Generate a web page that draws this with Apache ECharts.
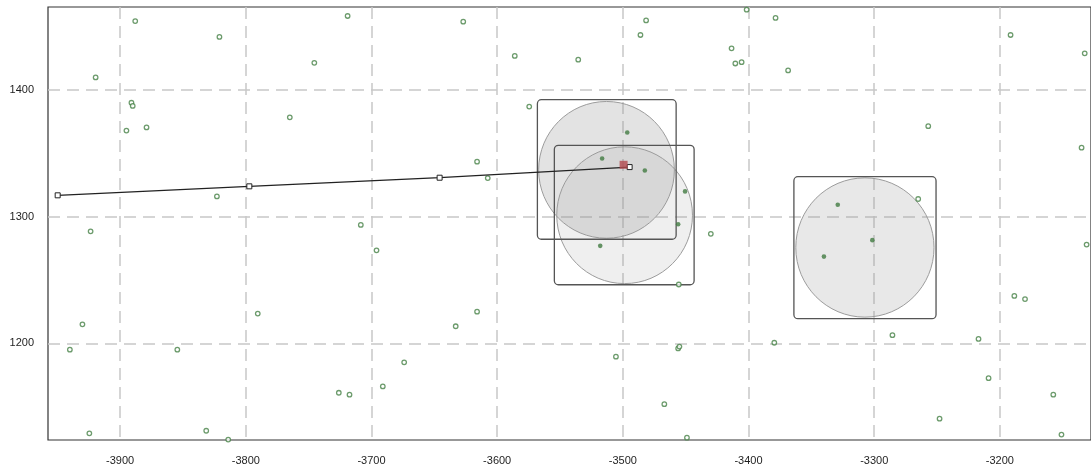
<!DOCTYPE html>
<html><head><meta charset="utf-8">
<script src="https://cdn.jsdelivr.net/npm/echarts@6/dist/echarts.min.js"></script>
<style>html,body{margin:0;padding:0;background:#fff}#c{width:1091px;height:470px}</style>
</head><body><div id="c"></div>
<script>
// ---- tick labels ----
const xTickLabels = [-3900, -3800, -3700, -3600, -3500, -3400, -3300, -3200];
const yTickLabels = [1200, 1300, 1400];

// ---- hollow points ----
const hollowX = [-3888, -3821, -3919.5, -3891, -3890, -3895, -3879, -3765, -3823, -3923.5,
  -3930, -3940, -3854.5, -3790.5, -3924.5, -3831.5, -3814, -3726, -3717.5, -3691,
  -3719, -3745.5, -3627, -3586, -3535.5, -3574.5, -3616, -3607.5, -3708.5, -3696,
  -3616, -3633, -3674, -3455.5, -3505.5, -3456, -3455, -3379.5, -3467, -3449,
  -3481.5, -3486, -3401.5, -3378.5, -3413.5, -3410.5, -3405.5, -3368.5, -3191.5, -3132.5,
  -3257, -3135, -3265, -3131, -3188.5, -3180, -3285.5, -3217, -3209, -3157.5,
  -3248, -3151, -3430];
const hollowY = [1454.5, 1442, 1410, 1390, 1387.5, 1368, 1370.5, 1378.5, 1316, 1288.5,
  1215, 1195, 1195, 1223.5, 1129, 1131, 1124, 1161, 1159.5, 1166,
  1458.5, 1421.5, 1454, 1427, 1424, 1387, 1343.5, 1330.5, 1293.5, 1273.5,
  1225, 1213.5, 1185, 1246.5, 1189.5, 1196, 1197.5, 1200.5, 1152, 1125.5,
  1455, 1443.5, 1463.5, 1457, 1433, 1421, 1422, 1415.5, 1443.5, 1429,
  1371.5, 1354.5, 1314, 1278, 1237.5, 1235, 1206.5, 1203.5, 1172.5, 1159.5,
  1140.5, 1128, 1286.5];

// ---- filled points (inside circles) ----
const dotX = [-3496.5, -3516.5, -3482.5, -3450.5, -3456, -3518, -3329, -3301.5, -3340];
const dotY = [1366.5, 1346, 1336.5, 1320, 1294, 1277, 1309.5, 1281.5, 1268.5];

// ---- path line ----
const pathX = [-3949.7, -3797.2, -3645.8, -3494.6];
const pathY = [1316.9, 1324, 1330.8, 1339.2];

// ---- highlighted point ----
const markX = [-3499.4];
const markY = [1341];

// ---- circles (centre, radius in data units) ----
const circleX = [-3513, -3498.6, -3307.4];
const circleY = [1337, 1301.2, 1275.7];
const circleR = [54, 54, 55];

// ---- boxes (x0, x1, y0, y1) ----
const boxX0 = [-3568, -3554.5, -3363.9];
const boxX1 = [-3457.6, -3443.3, -3250.8];
const boxY0 = [1282.2, 1246.3, 1219.5];
const boxY1 = [1392.4, 1356.4, 1331.6];

// styles
const circleFills = ['rgba(150,150,150,0.27)', 'rgba(150,150,150,0.15)', 'rgba(150,150,150,0.22)'];
const FONT = 'Liberation Sans, Arial, sans-serif';

const chart = echarts.init(document.getElementById('c'), null, {renderer: 'canvas'});
const zip = (a, b) => a.map((v, i) => [v, b[i]]);
const split = {show: true, showMinLine: false, showMaxLine: false,
  lineStyle: {type: [12, 7], color: '#c8c8c8', width: 1.5}};

chart.setOption({
  animation: false,
  backgroundColor: '#fff',
  grid: {left: 48, right: -2, top: 7, bottom: 30, show: true, borderColor: '#333', borderWidth: 1.2},
  xAxis: {
    type: 'value', min: -3957.4, max: -3127.5, splitNumber: 8, minInterval: 100, maxInterval: 100,
    axisLine: {show: false}, axisTick: {show: false},
    axisLabel: {margin: 15, fontSize: 11, color: '#1e1e1e', fontFamily: FONT, showMinLabel: false, showMaxLabel: false,
      formatter: v => xTickLabels.some(t => Math.abs(t - v) < 1e-6) ? String(Math.round(v)) : ''},
    splitLine: split
  },
  yAxis: {
    type: 'value', min: 1123.7, max: 1465.6, splitNumber: 3, minInterval: 100, maxInterval: 100,
    axisLine: {show: false}, axisTick: {show: false},
    axisLabel: {margin: 14, fontSize: 11, color: '#1e1e1e', fontFamily: FONT, showMinLabel: false, showMaxLabel: false,
      formatter: v => yTickLabels.some(t => Math.abs(t - v) < 1e-6) ? String(Math.round(v)) : ''},
    splitLine: split
  },
  series: [
    {
      type: 'custom', silent: true, clip: true, z: 2,
      data: circleX.map((x, i) => [x, circleY[i], circleR[i]]),
      encode: {x: 0, y: 1},
      renderItem: (params, api) => {
        const c = api.coord([api.value(0), api.value(1)]);
        const s = api.size([api.value(2), api.value(2)]);
        return {type: 'ellipse', shape: {cx: c[0], cy: c[1], rx: s[0], ry: s[1]},
          style: {fill: circleFills[params.dataIndex], stroke: '#9c9c9c', lineWidth: 1}};
      }
    },
    {
      type: 'custom', silent: true, clip: true, z: 3,
      data: boxX0.map((x, i) => [x, boxY0[i], boxX1[i], boxY1[i]]),
      encode: {x: [0, 2], y: [1, 3]},
      renderItem: (params, api) => {
        const p0 = api.coord([api.value(0), api.value(3)]);
        const p1 = api.coord([api.value(2), api.value(1)]);
        return {type: 'rect', shape: {x: p0[0], y: p0[1], width: p1[0] - p0[0], height: p1[1] - p0[1], r: 4},
          style: {fill: 'none', stroke: '#555', lineWidth: 1.3}};
      }
    },
    {
      type: 'scatter', z: 4, silent: true,
      data: zip(hollowX, hollowY),
      symbol: 'circle', symbolSize: 4.5,
      itemStyle: {color: '#fff', borderColor: '#478247', borderWidth: 1.3}
    },
    {
      type: 'scatter', z: 5, silent: true,
      data: zip(dotX, dotY),
      symbol: 'circle', symbolSize: 4.6,
      itemStyle: {color: '#417a41'}
    },
    {
      type: 'line', z: 6, silent: true,
      data: zip(pathX, pathY),
      symbol: 'rect', symbolSize: 5, showSymbol: true,
      lineStyle: {color: '#222', width: 1.2},
      itemStyle: {color: '#fff', borderColor: '#222', borderWidth: 1}
    },
    {
      type: 'scatter', z: 7, silent: true,
      data: zip(markX, markY),
      symbol: 'rect', symbolSize: 8,
      itemStyle: {color: '#b34a4f'}
    }
  ]
});
</script>
</body></html>
